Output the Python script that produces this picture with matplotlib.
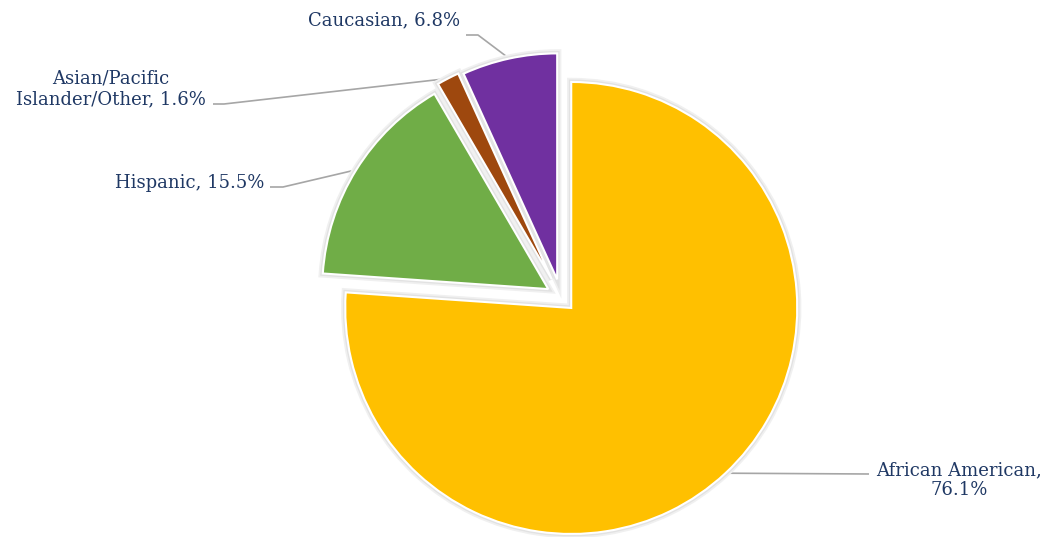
import numpy as np
import matplotlib.pyplot as plt

# race / ethnicity shares (%)
groups = ['African American', 'Hispanic', 'Asian/Pacific\nIslander/Other', 'Caucasian']
shares = [76.1, 15.5, 1.6, 6.8]
colors = ['#FFC000', '#70AD47', '#9E480E', '#7030A0']

W, H = 1050, 537
text_color = '#1F3864'
line_color = '#A6A6A6'

fig = plt.figure(figsize=(W / 100, H / 100), dpi=100)
ax = fig.add_axes([0, 0, 1, 1])

center = (561, H - 297)
radius = 226
# pie() takes explode in data units, here pixels
explode = [15, 15, 20, 18]

# soft grey halo behind the slices
for lw, c in [(6, '#F0F0F0'), (3.5, '#E2E2E2')]:
    ax.pie(shares, explode=explode, colors=colors, startangle=90, counterclock=False,
           center=center, radius=radius,
           wedgeprops=dict(edgecolor=c, linewidth=lw))
wedges, _ = ax.pie(shares, explode=explode, colors=colors, startangle=90,
                   counterclock=False, center=center, radius=radius,
                   wedgeprops=dict(edgecolor='white', linewidth=1.5))

ax.set_xlim(0, W)
ax.set_ylim(0, H)
ax.axis('off')

# label layout in pixel coords (top-left origin): text centre, line start, elbow
layout = [
    ((959, 480), (869, 474), (869, 474)),   # African American
    ((190, 183), (270, 187), (283, 187)),   # Hispanic
    ((111, 89), (213, 104), (224, 104)),    # Asian/Pacific
    ((384, 20), (466, 35), (478, 35)),      # Caucasian
]

for w, name, val, (tc, ls, el) in zip(wedges, groups, shares, layout):
    mid = np.deg2rad((w.theta1 + w.theta2) / 2)
    cx, cy = w.center
    tip = (cx + w.r * np.cos(mid), cy + w.r * np.sin(mid))
    if name == 'African American':
        label = 'African American,\n%.1f%%' % val
    else:
        label = '%s, %.1f%%' % (name, val)
    ax.text(tc[0], H - tc[1], label, ha='center', va='center', multialignment='center',
            fontsize=13, family='DejaVu Serif', color=text_color, linespacing=1.15)
    xs = [ls[0], el[0], tip[0]]
    ys = [H - ls[1], H - el[1], tip[1]]
    ax.plot(xs, ys, color=line_color, lw=1.2, solid_capstyle='butt', zorder=0)

fig.savefig('out.png', dpi=100)
